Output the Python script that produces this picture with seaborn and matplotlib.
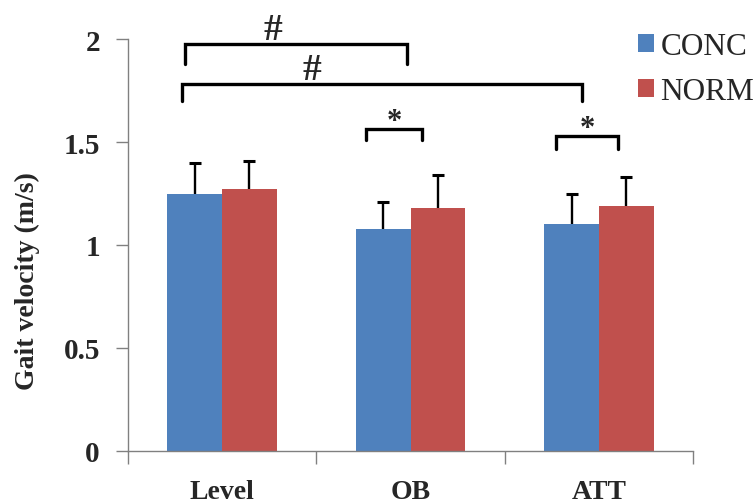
import numpy as np
import pandas as pd
import matplotlib
matplotlib.use('Agg')
import matplotlib.pyplot as plt
from matplotlib.ticker import FuncFormatter
import seaborn as sns

# Datos
condiciones = ['Level', 'OB', 'ATT']
grupos = ['CONC', 'NORM']
media_conc = [1.25, 1.08, 1.10]
media_norm = [1.27, 1.18, 1.19]
sd_conc = [0.15, 0.13, 0.15]
sd_norm = [0.14, 0.16, 0.14]

# Corchetes de significancia: (x inicio, x fin, y barra, y patas, texto, x texto)
corchetes = [
    (-0.196, 0.98, 1.975, 1.88, '#', 0.27),
    (-0.214, 1.908, 1.78, 1.70, '#', 0.477),
    (0.764, 1.06, 1.563, 1.51, '*', 0.912),
    (1.774, 2.102, 1.53, 1.466, '*', 1.938),
]

df = pd.DataFrame({
    'condicion': condiciones * 2,
    'grupo': ['CONC'] * 3 + ['NORM'] * 3,
    'velocidad': media_conc + media_norm,
})
sds = {'CONC': sd_conc, 'NORM': sd_norm}

sns.set_style('ticks')
plt.rcParams['font.family'] = 'serif'
plt.rcParams['font.serif'] = ['Liberation Serif', 'DejaVu Serif']

paleta = ['#4F81BD', '#C0504D']

fig = plt.figure(figsize=(7.56, 5.02), dpi=100)
ax = fig.add_axes([0.169, 0.100, 0.748, 0.820])

sns.barplot(data=df, x='condicion', y='velocidad', hue='grupo', order=condiciones,
            hue_order=grupos, palette=paleta, saturation=1, width=0.58, gap=0,
            errorbar=None, linewidth=0, ax=ax)

# Barras de error (solo hacia arriba, sin tapa inferior)
for cont, g in zip(ax.containers, grupos):
    xs = [p.get_x() + p.get_width() / 2 for p in cont.patches]
    ys = [p.get_height() for p in cont.patches]
    _, caps, _ = ax.errorbar(xs, ys, yerr=[np.zeros(len(ys)), sds[g]], fmt='none',
                             ecolor='black', elinewidth=1.7, capsize=4.3, capthick=2.2,
                             zorder=3)
    caps[0].set_visible(False)

# Corchetes
for x0, x1, yb, yp, txt, xt in corchetes:
    ax.plot([x0, x0, x1, x1], [yp, yb, yb, yp], color='black', lw=2.4,
            solid_joinstyle='miter', clip_on=False)
    if txt == '#':
        ax.text(xt, yb + 0.025, txt, ha='center', va='baseline', fontsize=27,
                fontweight='bold', clip_on=False)
    else:
        ax.text(xt, yb + 0.0, txt, ha='center', va='baseline', fontsize=22,
                fontweight='bold', clip_on=False)

# Ejes
ax.set_xlim(-0.5, 2.5)
ax.set_ylim(0, 2)
ax.set_yticks([0, 0.5, 1, 1.5, 2])
ax.yaxis.set_major_formatter(FuncFormatter(lambda v, p: f'{v:g}'))
ax.set_xticks([0, 1, 2])
ax.set_xticklabels(condiciones)
ax.set_xticks([-0.5, 0.5, 1.5, 2.5], minor=True)
ax.tick_params(axis='x', which='major', length=0, pad=20, labelsize=20)
ax.tick_params(axis='x', which='minor', length=9, width=1, color='#808080')
ax.tick_params(axis='y', length=9, width=1, color='#808080', labelsize=21, pad=11)
for t in ax.get_xticklabels() + ax.get_yticklabels():
    t.set_fontweight('bold')

ax.set_xlabel('')
ax.set_ylabel('Gait velocity (m/s)', fontsize=20, fontweight='bold')
ax.yaxis.set_label_coords(-0.178, 0.415)
ax.yaxis.label.set_verticalalignment('center')

for s in ['top', 'right']:
    ax.spines[s].set_visible(False)
for s in ['left', 'bottom']:
    ax.spines[s].set_color('#808080')
    ax.spines[s].set_linewidth(1)

# Leyenda
ax.legend(title=None, loc='upper left', bbox_to_anchor=(638 / 756, 1 - 33 / 502),
          bbox_transform=fig.transFigure, frameon=False, fontsize=22.5,
          handlelength=0.52, handleheight=0.52, handletextpad=0.2,
          labelspacing=0.52, borderpad=0, borderaxespad=0)

fig.savefig('out.png', dpi=100)
